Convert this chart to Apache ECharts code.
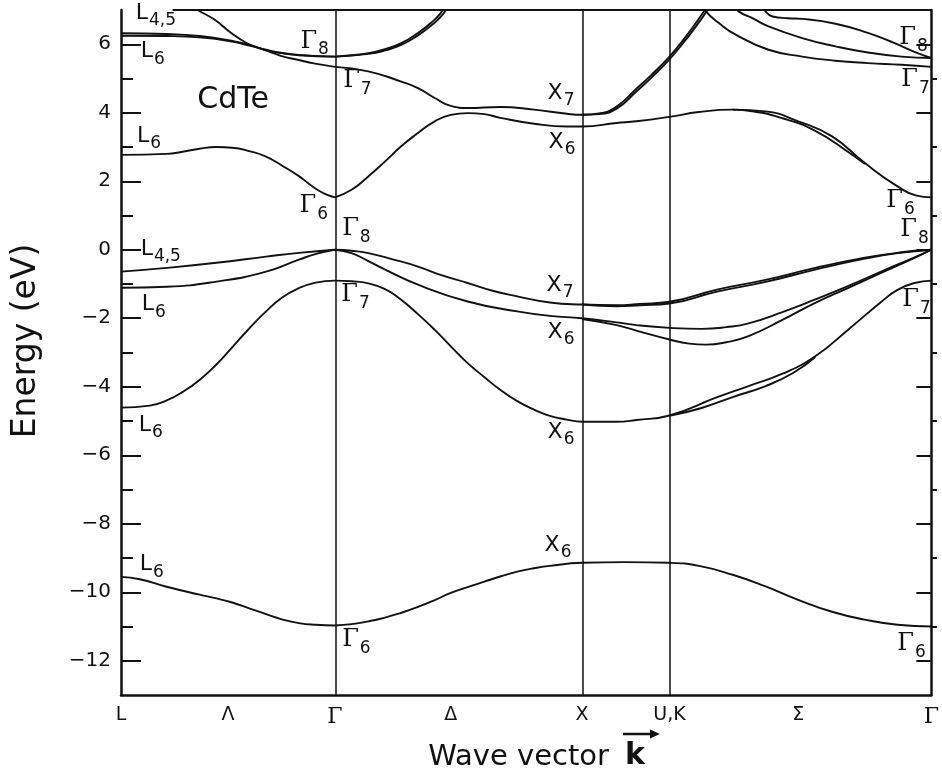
<!DOCTYPE html>
<html>
<head>
<meta charset="utf-8">
<script src="https://cdn.jsdelivr.net/npm/echarts@6/dist/echarts.min.js"></script>
<style>
  html, body { margin: 0; padding: 0; background: #fff; }
  #chart { width: 942px; height: 774px; }
</style>
</head>
<body>
<div id="chart"></div>
<script>
// Path through the Brillouin zone, k in units of 2π/a
const symPos   = [0, 0.433, 0.866, 1.335, 1.866, 2.22, 2.741, 3.28];
const symNames = ['L', 'Λ', 'Γ', 'Δ', 'X', 'U,K', 'Σ', 'Γ'];
const zoneLines = [0.866, 1.866, 2.22];

const energyMajor = [-12, -10, -8, -6, -4, -2, 0, 2, 4, 6];
const energyMinor = [-11, -9, -7, -5, -3, -1, 1, 3, 5];

// ---- bands, L -> Γ ----
const lgLow = [[0,-9.55],[0.076,-9.62],[0.185,-9.84],[0.318,-10.07],[0.386,-10.18],[0.45,-10.3],[0.519,-10.47],[0.587,-10.64],[0.651,-10.79],[0.72,-10.9],[0.788,-10.95],[0.866,-10.97]];
const lgSO  = [[0,-4.61],[0.117,-4.55],[0.185,-4.4],[0.25,-4.15],[0.318,-3.8],[0.386,-3.35],[0.45,-2.85],[0.519,-2.3],[0.587,-1.8],[0.651,-1.4],[0.72,-1.12],[0.788,-0.96],[0.866,-0.9]];
const lgHH  = [[0,-0.64],[0.185,-0.53],[0.386,-0.38],[0.587,-0.2],[0.72,-0.09],[0.866,0]];
const lgLH  = [[0,-1.11],[0.185,-1.08],[0.386,-0.93],[0.587,-0.64],[0.72,-0.29],[0.79,-0.12],[0.866,0]];
const lgCB  = [[0,2.77],[0.185,2.8],[0.249,2.86],[0.318,2.95],[0.386,3.0],[0.45,2.98],[0.519,2.88],[0.587,2.72],[0.651,2.46],[0.72,2.15],[0.76,1.93],[0.8,1.73],[0.835,1.6],[0.866,1.53]];
const lgC7  = [[0,6.32],[0.185,6.3],[0.318,6.24],[0.45,6.1],[0.519,5.98],[0.587,5.82],[0.647,5.66],[0.72,5.54],[0.78,5.44],[0.866,5.34]];
const lgC8  = [[0,6.25],[0.185,6.24],[0.318,6.2],[0.45,6.08],[0.519,5.96],[0.587,5.84],[0.647,5.75],[0.72,5.69],[0.78,5.66],[0.866,5.64]];
const lgC8b = [[0.28,7.15],[0.31,7.0],[0.378,6.72],[0.446,6.33],[0.51,6.03],[0.579,5.84],[0.65,5.74],[0.72,5.68],[0.866,5.64]];

// ---- bands, Γ -> X -> U,K -> Γ ----
const gxLow = [[0.866,-10.97],[0.933,-10.93],[1.001,-10.85],[1.069,-10.74],[1.134,-10.6],[1.202,-10.43],[1.27,-10.23],[1.335,-10.02],[1.403,-9.85],[1.471,-9.69],[1.535,-9.54],[1.604,-9.4],[1.672,-9.3],[1.736,-9.23],[1.866,-9.14],[2.04,-9.12],[2.22,-9.14],[2.339,-9.23],[2.476,-9.49],[2.609,-9.83],[2.741,-10.22],[2.878,-10.57],[3.011,-10.8],[3.143,-10.95],[3.28,-11.0]];
const gxSO  = [[0.866,-0.9],[0.933,-0.92],[1.001,-0.98],[1.069,-1.15],[1.134,-1.46],[1.202,-1.88],[1.27,-2.34],[1.335,-2.82],[1.403,-3.31],[1.471,-3.72],[1.535,-4.09],[1.604,-4.42],[1.672,-4.67],[1.736,-4.85],[1.805,-4.96],[1.866,-5.02],[2.006,-5.02],[2.086,-4.97],[2.22,-4.84],[2.408,-4.32],[2.54,-3.98],[2.677,-3.62],[2.81,-3.11],[2.942,-2.34],[3.079,-1.51],[3.143,-1.17],[3.212,-0.97],[3.28,-0.9]];
const kgSO2 = [[2.22,-4.85],[2.35,-4.62],[2.476,-4.3],[2.609,-3.98],[2.72,-3.6],[2.81,-3.13]];
const gxHH  = [[0.866,0],[0.933,-0.03],[1.001,-0.1],[1.1,-0.28],[1.202,-0.49],[1.3,-0.75],[1.403,-0.97],[1.5,-1.19],[1.604,-1.36],[1.736,-1.54],[1.866,-1.6],[2.006,-1.62],[2.1,-1.58],[2.22,-1.52],[2.408,-1.17],[2.609,-0.88],[2.81,-0.53],[3.011,-0.23],[3.143,-0.09],[3.212,-0.03],[3.28,0]];
const xgHH2 = [[1.866,-1.6],[2.006,-1.65],[2.1,-1.62],[2.22,-1.57],[2.408,-1.23],[2.609,-0.94],[2.81,-0.58],[3.011,-0.26],[3.143,-0.1],[3.28,0]];
const gxLH  = [[0.866,0],[0.933,-0.1],[1.001,-0.33],[1.069,-0.58],[1.202,-1.02],[1.403,-1.51],[1.604,-1.8],[1.736,-1.93],[1.866,-2.0],[2.006,-2.12],[2.086,-2.2],[2.22,-2.28],[2.35,-2.31],[2.45,-2.26],[2.54,-2.15],[2.677,-1.82],[2.81,-1.45],[2.942,-1.06],[3.079,-0.63],[3.212,-0.22],[3.28,0]];
const xgLH2 = [[1.866,-2.02],[2.006,-2.2],[2.086,-2.36],[2.22,-2.62],[2.3,-2.74],[2.368,-2.77],[2.45,-2.7],[2.54,-2.52],[2.677,-2.05],[2.81,-1.55],[2.942,-1.12],[3.079,-0.67],[3.212,-0.24],[3.28,0]];
const gxCB  = [[0.866,1.53],[0.933,1.75],[1.001,2.14],[1.069,2.58],[1.134,3.02],[1.202,3.41],[1.27,3.75],[1.335,3.94],[1.403,3.99],[1.471,3.96],[1.535,3.85],[1.672,3.68],[1.805,3.6],[1.866,3.6],[2.006,3.7],[2.086,3.75],[2.22,3.88],[2.339,4.02],[2.476,4.09],[2.609,4.04],[2.741,3.75],[2.878,3.31],[3.011,2.53],[3.143,1.85],[3.22,1.58],[3.28,1.53]];
const kgCB2 = [[2.476,4.09],[2.54,4.06],[2.677,3.84],[2.81,3.47],[2.942,2.86],[3.011,2.5]];
const gxC7  = [[0.866,5.34],[1.001,5.21],[1.134,4.91],[1.202,4.72],[1.27,4.43],[1.335,4.2],[1.403,4.14],[1.535,4.17],[1.672,4.09],[1.805,3.97],[1.866,3.94],[1.935,3.98],[2.006,4.18],[2.086,4.7],[2.146,5.1],[2.22,5.64],[2.287,6.23],[2.355,6.91],[2.38,7.2]];
const xuC72 = [[1.866,3.94],[1.935,3.96],[2.006,4.12],[2.086,4.62],[2.146,5.02],[2.22,5.56],[2.287,6.14],[2.355,6.8],[2.39,7.2]];
const gxC8  = [[0.866,5.64],[0.933,5.68],[1.001,5.74],[1.069,5.86],[1.134,6.03],[1.202,6.33],[1.254,6.62],[1.294,6.91],[1.31,7.15]];
const gxC8b = [[0.866,5.64],[1.001,5.72],[1.069,5.82],[1.134,5.98],[1.202,6.26],[1.254,6.54],[1.3,6.85],[1.325,7.15]];
const kgS1  = [[2.355,7.2],[2.368,6.96],[2.42,6.62],[2.488,6.28],[2.621,5.84],[2.757,5.64],[2.892,5.52],[3.023,5.45],[3.159,5.4],[3.28,5.34]];
const kgS2  = [[2.48,7.15],[2.5,6.96],[2.556,6.76],[2.621,6.52],[2.757,6.18],[2.892,5.94],[3.023,5.76],[3.159,5.64],[3.28,5.6]];
const kgS3  = [[2.6,7.15],[2.609,6.96],[2.637,6.81],[2.7,6.76],[2.757,6.74],[2.892,6.6],[3.023,6.33],[3.131,6.03],[3.224,5.74],[3.28,5.6]];

const bands = [lgLow, lgSO, lgHH, lgLH, lgCB, lgC7, lgC8, lgC8b,
               gxLow, gxSO, kgSO2, gxHH, xgHH2, gxLH, xgLH2, gxCB, kgCB2,
               gxC7, xuC72, gxC8, gxC8b, kgS1, kgS2, kgS3];

// ---- symmetry labels of the levels ----
const tagMain = ['L','L','Γ','Γ','X','L','X','Γ','Γ','L','X','L','Γ','X','L','X','X','L','Γ','Γ','Γ','Γ','Γ','Γ','Γ'];
const tagSub  = ['4,5','6','8','7','7','6','6','6','8','4,5','7','6','7','6','6','6','6','6','6','8','7','6','8','7','6'];
const tagK    = [0.141,0.129,0.784,0.957,1.781,0.113,1.785,0.78,0.953,0.161,1.777,0.133,0.949,1.781,0.121,1.781,1.769,0.125,0.953,3.208,3.216,3.155,3.212,3.22,3.2];
const tagE    = [6.67,5.55,5.82,4.66,4.34,3.08,2.91,1.01,0.35,-0.22,-1.26,-1.84,-1.59,-2.64,-5.36,-5.56,-8.86,-9.43,-11.65,5.93,4.69,1.17,0.32,-1.72,-11.78];
const material = 'CdTe';
const materialAt = [0.454, 4.38];

const INK = '#111';
const chart = echarts.init(document.getElementById('chart'));

const lineSeries = bands.map(pts => ({
  type: 'line',
  xAxisIndex: 0, yAxisIndex: 0,
  data: pts,
  symbol: 'none',
  smooth: 0.5,
  silent: true,
  lineStyle: { color: INK, width: 1.9 },
  z: 3
}));

// zone-boundary verticals and the top frame edge
lineSeries[0].markLine = {
  silent: true,
  symbol: ['none', 'none'],
  label: { show: false },
  lineStyle: { color: INK, width: 1.5, type: 'solid' },
  data: zoneLines.map(v => ({ xAxis: v })).concat([
    [{ coord: [0.209, 7], lineStyle: { width: 2.2, color: INK, type: 'solid' } }, { coord: [3.28, 7] }]
  ])
};

const tagData = tagK.map((k, i) => ({ value: [k, tagE[i]], main: tagMain[i], sub: tagSub[i] }));

const option = {
  animation: false,
  backgroundColor: '#fff',
  grid: [
    { left: 121, right: 5, top: 10, bottom: 79 },
    { left: 121, right: 5, top: 10, bottom: 79 }
  ],
  xAxis: [
    {
      gridIndex: 0, type: 'value', min: 0, max: 3.28,
      axisLine: { show: true, onZero: false, lineStyle: { color: INK, width: 2.5 } },
      axisTick: { show: false },
      splitLine: { show: false },
      axisLabel: {
        customValues: symPos,
        showMinLabel: true, showMaxLabel: true,
        formatter: v => {
          let i = 0;
          symPos.forEach((p, j) => { if (Math.abs(p - v) < Math.abs(symPos[i] - v)) i = j; });
          return symNames[i] === 'Γ' ? '{g|Γ}' : symNames[i];
        },
        fontFamily: 'DejaVu Sans', fontSize: 19, color: INK, margin: 11,
        rich: { g: { fontFamily: 'DejaVu Serif', fontSize: 22, color: INK } }
      }
    },
    {
      gridIndex: 1, type: 'value', min: 0, max: 3.28, show: false
    }
  ],
  yAxis: [
    {
      gridIndex: 0, type: 'value', min: -13, max: 7, position: 'left',
      axisLine: { show: true, onZero: false, lineStyle: { color: INK, width: 2.5 } },
      axisTick: { show: true, inside: true, length: 20, customValues: energyMajor, lineStyle: { color: INK, width: 2 } },
      axisLabel: {
        customValues: energyMajor,
        formatter: v => (v < 0 ? '\u2212' + Math.abs(v) : String(v)),
        fontFamily: 'DejaVu Sans', fontSize: 20, color: INK, margin: 10
      },
      splitLine: { show: false }
    },
    {
      gridIndex: 0, type: 'value', min: -13, max: 7, position: 'right',
      axisLine: { show: true, onZero: false, lineStyle: { color: INK, width: 2.5 } },
      axisTick: { show: true, inside: true, length: 15, customValues: energyMajor, lineStyle: { color: INK, width: 2 } },
      axisLabel: { show: false },
      splitLine: { show: false }
    },
    {
      gridIndex: 1, type: 'value', min: -13, max: 7, position: 'left',
      axisLine: { show: false },
      axisTick: { show: true, inside: true, length: 12, customValues: energyMinor, lineStyle: { color: INK, width: 2 } },
      axisLabel: { show: false },
      splitLine: { show: false }
    },
    {
      gridIndex: 1, type: 'value', min: -13, max: 7, position: 'right',
      axisLine: { show: false },
      axisTick: { show: true, inside: true, length: 6, customValues: energyMinor, lineStyle: { color: INK, width: 2 } },
      axisLabel: { show: false },
      splitLine: { show: false }
    }
  ],
  series: lineSeries.concat([
    {
      type: 'scatter', xAxisIndex: 0, yAxisIndex: 0,
      data: tagData,
      symbolSize: 1,
      itemStyle: { color: 'rgba(0,0,0,0)', opacity: 1 },
      silent: true,
      z: 5,
      label: {
        show: true, position: 'inside', color: INK, opacity: 1,
        textBorderWidth: 0, offset: [0, -7],
        formatter: p => '{' + (p.data.main === 'Γ' ? 'g' : 'm') + '|' + p.data.main + '}{s|' + p.data.sub + '}',
        rich: {
          m: { fontFamily: 'DejaVu Sans', fontSize: 22, lineHeight: 30, verticalAlign: 'bottom', padding: [0, 0, 5, 0], color: INK },
          g: { fontFamily: 'DejaVu Serif', fontSize: 24, lineHeight: 30, verticalAlign: 'bottom', padding: [0, 0, 5, 0], color: INK },
          s: { fontFamily: 'DejaVu Sans', fontSize: 17, lineHeight: 30, verticalAlign: 'bottom', padding: [0, 0, 0, 1], color: INK }
        }
      }
    },
    {
      type: 'scatter', xAxisIndex: 0, yAxisIndex: 0,
      data: [materialAt],
      symbolSize: 1,
      itemStyle: { color: 'rgba(0,0,0,0)', opacity: 1 },
      silent: true,
      label: {
        show: true, position: 'inside', formatter: material, opacity: 1, textBorderWidth: 0,
        fontFamily: 'DejaVu Sans', fontSize: 30, color: INK
      }
    }
  ]),
  graphic: [
    {
      type: 'text', x: 26, y: 341, rotation: Math.PI / 2,
      style: { text: 'Energy (eV)', fontFamily: 'DejaVu Sans', fontSize: 33, fill: INK, align: 'center', verticalAlign: 'middle' }
    },
    {
      type: 'text', x: 609, y: 757,
      style: { text: 'Wave vector', fontFamily: 'DejaVu Sans', fontSize: 29, fill: INK, align: 'right', verticalAlign: 'middle' }
    },
    {
      type: 'text', x: 635, y: 756,
      style: { text: 'k', fontFamily: 'DejaVu Sans', fontWeight: 'bold', fontSize: 30, fill: INK, align: 'center', verticalAlign: 'middle' }
    },
    {
      type: 'line', shape: { x1: 623, y1: 734, x2: 652, y2: 734 },
      style: { stroke: INK, lineWidth: 2.5 }
    },
    {
      type: 'polygon', shape: { points: [[660, 734], [650, 729.5], [650, 738.5]] },
      style: { fill: INK }
    }
  ]
};

chart.setOption(option);
</script>
</body>
</html>
